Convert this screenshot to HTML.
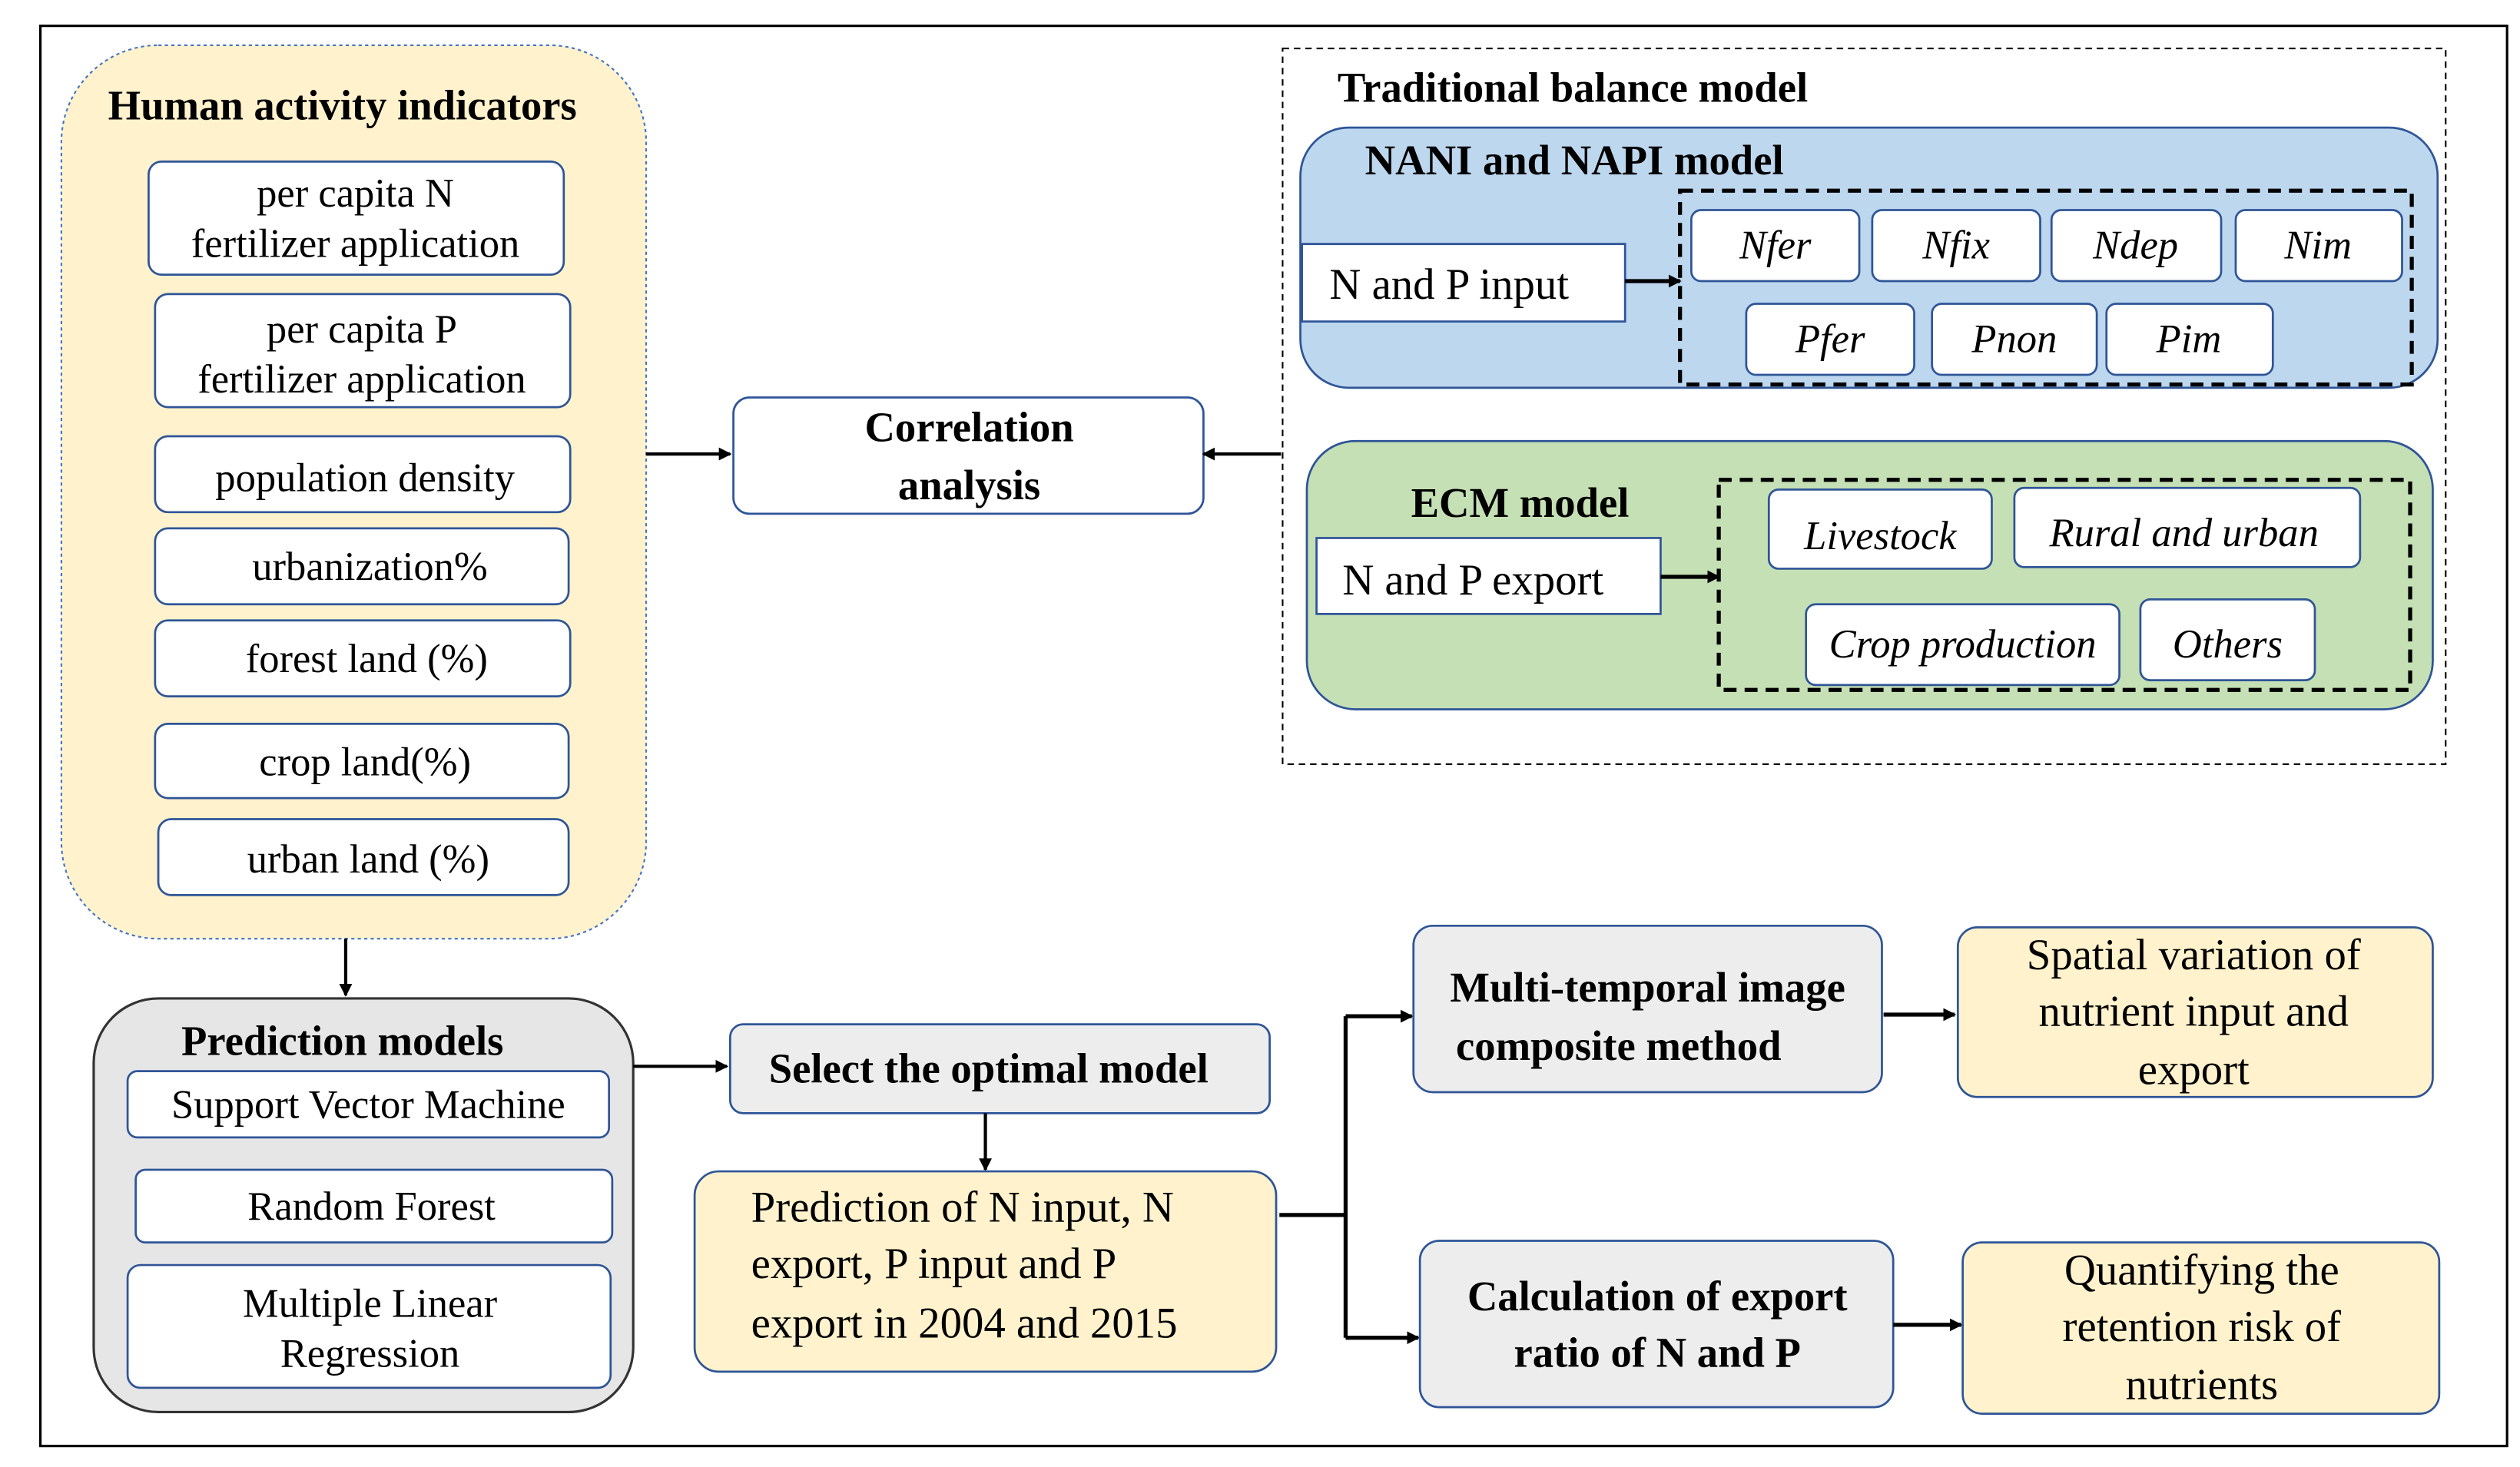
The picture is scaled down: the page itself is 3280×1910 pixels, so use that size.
<!DOCTYPE html>
<html><head><meta charset="utf-8"><style>
html,body{margin:0;padding:0;background:#fff;width:3280px;height:1910px;overflow:hidden}
svg{display:block}
text{font-family:"Liberation Serif",serif;fill:#000}
.b{font-weight:bold;font-size:26px}
.t{font-size:25px}
.i{font-size:25px;font-style:italic}
.w{fill:#fff;stroke:#2f5597;stroke-width:1.3}
</style></head><body>
<svg width="3280" height="1910" viewBox="0 0 1560 908" preserveAspectRatio="none" xmlns="http://www.w3.org/2000/svg">
<defs><marker id="a" markerWidth="8" markerHeight="8" refX="7" refY="4" orient="auto" markerUnits="userSpaceOnUse"><path d="M0,0 L8,4 L0,8 z" fill="#000"/></marker></defs>
<rect x="25" y="16" width="1527" height="879" fill="none" stroke="#000" stroke-width="1.5"/>
<!-- Human -->
<rect x="38" y="28" width="362" height="553" rx="60" fill="#fff2cc" stroke="#4472c4" stroke-dasharray="2,2"/>
<text class="b" x="212" y="74" text-anchor="middle">Human  activity  indicators</text>
<rect class="w" x="92" y="100" width="257" height="70" rx="8"/>
<text class="t" x="220" y="128" text-anchor="middle">per capita N</text><text class="t" x="220" y="159" text-anchor="middle">fertilizer  application</text>
<rect class="w" x="96" y="182" width="257" height="70" rx="8"/>
<text class="t" x="224" y="212" text-anchor="middle">per capita P</text><text class="t" x="224" y="243" text-anchor="middle">fertilizer  application</text>
<rect class="w" x="96" y="270" width="257" height="47" rx="8"/><text class="t" x="226" y="304" text-anchor="middle">population density</text>
<rect class="w" x="96" y="327" width="256" height="47" rx="8"/><text class="t" x="229" y="359" text-anchor="middle">urbanization%</text>
<rect class="w" x="96" y="384" width="257" height="47" rx="8"/><text class="t" x="227" y="416" text-anchor="middle">forest land  (%)</text>
<rect class="w" x="96" y="448" width="256" height="46" rx="8"/><text class="t" x="226" y="480" text-anchor="middle">crop land(%)</text>
<rect class="w" x="98" y="507" width="254" height="47" rx="8"/><text class="t" x="228" y="540" text-anchor="middle">urban land  (%)</text>
<line x1="400" y1="281" x2="452" y2="281" stroke="#000" stroke-width="2" marker-end="url(#a)"/>
<rect class="w" x="454" y="246" width="291" height="72" rx="10"/>
<text class="b" x="600" y="273" text-anchor="middle">Correlation</text><text class="b" x="600" y="309" text-anchor="middle">analysis</text>
<line x1="793" y1="281" x2="745" y2="281" stroke="#000" stroke-width="2" marker-end="url(#a)"/>
<!-- Traditional -->
<rect x="794" y="30" width="720" height="443" fill="none" stroke="#000" stroke-dasharray="4,3"/>
<text class="b" x="828" y="63">Traditional  balance  model</text>
<rect x="805" y="79" width="704" height="161" rx="30" fill="#bdd7ee" stroke="#2f5597" stroke-width="1.3"/>
<text class="b" x="845" y="108">NANI  and  NAPI  model</text>
<rect class="w" x="806" y="151" width="200" height="48"/><text x="823" y="185" style="font-size:27px">N and P input</text>
<line x1="1006" y1="174" x2="1040" y2="174" stroke="#000" stroke-width="2.5" marker-end="url(#a)"/>
<rect x="1040" y="118" width="453" height="120" fill="none" stroke="#000" stroke-width="2.5" stroke-dasharray="8,5"/>
<rect class="w" x="1047" y="130" width="104" height="44" rx="6"/><text class="i" x="1099" y="160" text-anchor="middle">Nfer</text>
<rect class="w" x="1159" y="130" width="104" height="44" rx="6"/><text class="i" x="1211" y="160" text-anchor="middle">Nfix</text>
<rect class="w" x="1270" y="130" width="105" height="44" rx="6"/><text class="i" x="1322" y="160" text-anchor="middle">Ndep</text>
<rect class="w" x="1384" y="130" width="103" height="44" rx="6"/><text class="i" x="1435" y="160" text-anchor="middle">Nim</text>
<rect class="w" x="1081" y="188" width="104" height="44" rx="6"/><text class="i" x="1133" y="218" text-anchor="middle">Pfer</text>
<rect class="w" x="1196" y="188" width="102" height="44" rx="6"/><text class="i" x="1247" y="218" text-anchor="middle">Pnon</text>
<rect class="w" x="1304" y="188" width="103" height="44" rx="6"/><text class="i" x="1355" y="218" text-anchor="middle">Pim</text>
<rect x="809" y="273" width="697" height="166" rx="30" fill="#c5e0b4" stroke="#2f5597" stroke-width="1.3"/>
<text class="b" x="941" y="320" text-anchor="middle">ECM  model</text>
<rect class="w" x="815" y="333" width="213" height="47"/><text x="831" y="368" style="font-size:27px">N and P export</text>
<line x1="1028" y1="357" x2="1064" y2="357" stroke="#000" stroke-width="2.5" marker-end="url(#a)"/>
<rect x="1064" y="297" width="428" height="130" fill="none" stroke="#000" stroke-width="2.5" stroke-dasharray="8,5"/>
<rect class="w" x="1095" y="303" width="138" height="49" rx="6"/><text class="i" x="1164" y="340" text-anchor="middle">Livestock</text>
<rect class="w" x="1247" y="302" width="214" height="49" rx="6"/><text class="i" x="1352" y="338" text-anchor="middle">Rural and urban</text>
<rect class="w" x="1118" y="374" width="194" height="50" rx="6"/><text class="i" x="1215" y="407" text-anchor="middle">Crop production</text>
<rect class="w" x="1325" y="371" width="108" height="50" rx="6"/><text class="i" x="1379" y="407" text-anchor="middle">Others</text>
<!-- Bottom -->
<line x1="214" y1="581" x2="214" y2="616" stroke="#000" stroke-width="2" marker-end="url(#a)"/>
<rect x="58" y="618" width="334" height="256" rx="40" fill="#e7e6e6" stroke="#333" stroke-width="1.5"/>
<text class="b" x="212" y="653" text-anchor="middle">Prediction  models</text>
<rect class="w" x="79" y="663" width="298" height="41" rx="6"/><text class="t" x="228" y="692" text-anchor="middle">Support Vector Machine</text>
<rect class="w" x="84" y="724" width="295" height="45" rx="6"/><text class="t" x="230" y="755" text-anchor="middle">Random Forest</text>
<rect class="w" x="79" y="783" width="299" height="76" rx="8"/><text class="t" x="229" y="815" text-anchor="middle">Multiple  Linear</text><text class="t" x="229" y="846" text-anchor="middle">Regression</text>
<line x1="392" y1="660" x2="450" y2="660" stroke="#000" stroke-width="2" marker-end="url(#a)"/>
<rect x="452" y="634" width="334" height="55" rx="8" fill="#ededed" stroke="#2f5597" stroke-width="1.3"/>
<text class="b" x="612" y="670" text-anchor="middle">Select the optimal model</text>
<line x1="610" y1="689" x2="610" y2="724" stroke="#000" stroke-width="2" marker-end="url(#a)"/>
<rect x="430" y="725" width="360" height="124" rx="15" fill="#fff2cc" stroke="#2f5597" stroke-width="1.3"/>
<text x="465" y="756" style="font-size:27px">Prediction of N input, N</text>
<text x="465" y="791" style="font-size:27px">export, P input and P</text>
<text x="465" y="828" style="font-size:27px">export in 2004 and 2015</text>
<polyline points="792,752 833,752" fill="none" stroke="#000" stroke-width="2.5"/>
<line x1="833" y1="629" x2="833" y2="828" stroke="#000" stroke-width="2.5"/>
<line x1="833" y1="629" x2="874" y2="629" stroke="#000" stroke-width="2.5" marker-end="url(#a)"/>
<line x1="833" y1="828" x2="878" y2="828" stroke="#000" stroke-width="2.5" marker-end="url(#a)"/>
<rect x="875" y="573" width="290" height="103" rx="12" fill="#ededed" stroke="#2f5597" stroke-width="1.3"/>
<text class="b" x="1020" y="620" text-anchor="middle">Multi-temporal  image</text>
<text class="b" x="1002" y="656" text-anchor="middle">composite method</text>
<line x1="1166" y1="628" x2="1210" y2="628" stroke="#000" stroke-width="2.5" marker-end="url(#a)"/>
<rect x="1212" y="574" width="294" height="105" rx="12" fill="#fff2cc" stroke="#2f5597" stroke-width="1.3"/>
<text x="1358" y="600" text-anchor="middle" style="font-size:27px">Spatial variation of</text>
<text x="1358" y="635" text-anchor="middle" style="font-size:27px">nutrient input and</text>
<text x="1358" y="671" text-anchor="middle" style="font-size:27px">export</text>
<rect x="879" y="768" width="293" height="103" rx="12" fill="#ededed" stroke="#2f5597" stroke-width="1.3"/>
<text class="b" x="1026" y="811" text-anchor="middle">Calculation  of export</text>
<text class="b" x="1026" y="846" text-anchor="middle">ratio of N and P</text>
<line x1="1172" y1="820" x2="1214" y2="820" stroke="#000" stroke-width="2.5" marker-end="url(#a)"/>
<rect x="1215" y="769" width="295" height="106" rx="12" fill="#fff2cc" stroke="#2f5597" stroke-width="1.3"/>
<text x="1363" y="795" text-anchor="middle" style="font-size:27px">Quantifying  the</text>
<text x="1363" y="830" text-anchor="middle" style="font-size:27px">retention risk of</text>
<text x="1363" y="866" text-anchor="middle" style="font-size:27px">nutrients</text>
</svg>
</body></html>
